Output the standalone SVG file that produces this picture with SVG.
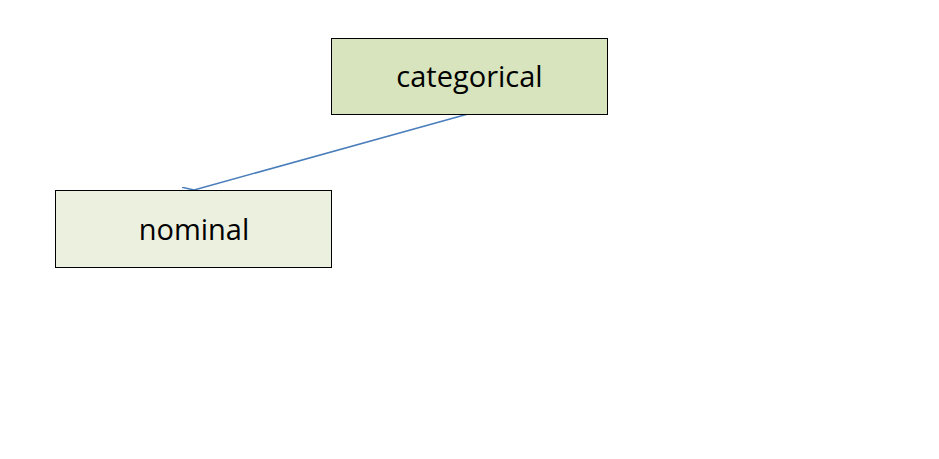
<svg xmlns="http://www.w3.org/2000/svg" width="939" height="459" viewBox="0 0 939 459">
<style>
.box{stroke:#000;stroke-width:1}
.t{font-family:"Open Sans","Liberation Sans",sans-serif;font-size:29px;text-anchor:middle;fill:#000}
</style>
<defs><marker id="a" markerWidth="12" markerHeight="12" refX="1" refY="6" orient="auto" markerUnits="userSpaceOnUse"><path d="M12,0 L1,6 L12,12" fill="none" stroke="#4a7ebb" stroke-width="1.5"/></marker></defs>
<rect width="939" height="459" fill="#fff"/>
<g id="connectors"><line x1="468" y1="114" x2="194" y2="190" stroke="#4a7ebb" stroke-width="1.5" marker-end="url(#a)"/></g>
<g id="categorical"><rect class="box" x="331.500" y="38.500" width="276" height="76" fill="#d7e4bd"/><text class="t" x="469.500" y="87">categorical</text></g>
<g id="nominal"><rect class="box" x="55.500" y="190.500" width="276" height="77" fill="#ebf1de"/><text class="t" x="194" y="240">nominal</text></g>
</svg>
